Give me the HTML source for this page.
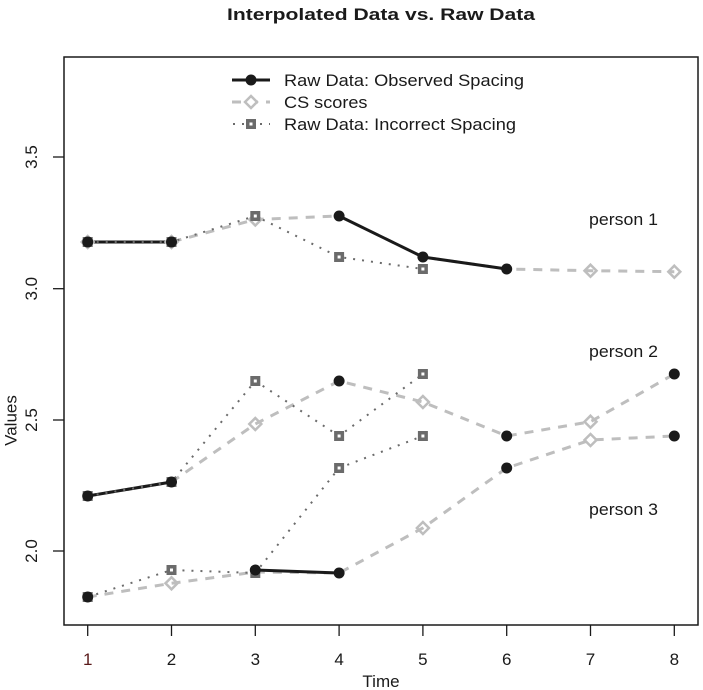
<!DOCTYPE html>
<html><head><meta charset="utf-8"><style>
html,body{margin:0;padding:0;background:#fff;}
svg{display:block;font-family:"Liberation Sans",Arial,sans-serif;}
</style></head><body>
<svg width="703" height="690" viewBox="0 0 703 690" xmlns="http://www.w3.org/2000/svg">
<rect width="703" height="690" fill="#fff"/>
<text x="381" y="20" text-anchor="middle" font-weight="bold" font-size="17" fill="#1a1a1a" textLength="308" lengthAdjust="spacingAndGlyphs">Interpolated Data vs. Raw Data</text>
<!-- box -->
<rect x="64" y="57" width="634" height="568" fill="none" stroke="#1a1a1a" stroke-width="1.5"/>
<!-- x ticks -->
<g stroke="#1a1a1a" stroke-width="1.3">
<line x1="87.7" y1="625" x2="87.7" y2="636"/>
<line x1="171.5" y1="625" x2="171.5" y2="636"/>
<line x1="255.3" y1="625" x2="255.3" y2="636"/>
<line x1="339.1" y1="625" x2="339.1" y2="636"/>
<line x1="422.9" y1="625" x2="422.9" y2="636"/>
<line x1="506.7" y1="625" x2="506.7" y2="636"/>
<line x1="590.5" y1="625" x2="590.5" y2="636"/>
<line x1="674.3" y1="625" x2="674.3" y2="636"/>
<line x1="53" y1="551" x2="64" y2="551"/>
<line x1="53" y1="420" x2="64" y2="420"/>
<line x1="53" y1="288.7" x2="64" y2="288.7"/>
<line x1="53" y1="157" x2="64" y2="157"/>
</g>
<g font-size="17" fill="#1a1a1a" text-anchor="middle">
<text x="87.7" y="665" fill="#5a1a1a">1</text>
<text x="171.5" y="665">2</text>
<text x="255.3" y="665">3</text>
<text x="339.1" y="665">4</text>
<text x="422.9" y="665">5</text>
<text x="506.7" y="665">6</text>
<text x="590.5" y="665">7</text>
<text x="674.3" y="665">8</text>
<text x="381" y="687">Time</text>
<text transform="translate(37,551) rotate(-90)">2.0</text>
<text transform="translate(37,420) rotate(-90)">2.5</text>
<text transform="translate(37,288.7) rotate(-90)">3.0</text>
<text transform="translate(37,157) rotate(-90)">3.5</text>
<text transform="translate(16.5,420.5) rotate(-90)">Values</text>
</g>

<!-- CS lines (gray dashed) -->
<g fill="none" stroke="#bebebe" stroke-width="3" stroke-dasharray="9 8">
<polyline points="87.7,242 171.5,242 255.3,219.5 339.1,216 422.9,257 506.7,269 590.5,270.7 674.3,271.7"/>
<polyline points="87.7,496 171.5,482 255.3,424 339.1,381 422.9,402 506.7,436 590.5,421.7 674.3,374"/>
<polyline points="87.7,597 171.5,583.3 255.3,572 339.1,573 422.9,528 506.7,468 590.5,440 674.3,436"/>
</g>
<!-- Raw lines (black solid) -->
<g fill="none" stroke="#1a1a1a" stroke-width="3">
<polyline points="87.7,242 171.5,242"/>
<polyline points="339.1,216 422.9,257 506.7,269"/>
<polyline points="87.7,496 171.5,482"/>
<polyline points="255.3,570 339.1,573"/>
</g>
<!-- Incorrect lines (dotted) -->
<g fill="none" stroke="#6b6b6b" stroke-width="2" stroke-dasharray="2 7">
<polyline points="87.7,242 171.5,242 255.3,216 339.1,257 422.9,269"/>
<polyline points="87.7,496 171.5,482 255.3,381 339.1,436 422.9,374"/>
<polyline points="87.7,597 171.5,570 255.3,573 339.1,468 422.9,436"/>
</g>

<!-- CS diamonds -->
<g fill="none" stroke="#bebebe" stroke-width="2.5">
<path d="M87.7,236 l6,6 l-6,6 l-6,-6z"/>
<path d="M171.5,236 l6,6 l-6,6 l-6,-6z"/>
<path d="M255.3,213.5 l6,6 l-6,6 l-6,-6z"/>
<path d="M590.5,264.7 l6,6 l-6,6 l-6,-6z"/>
<path d="M674.3,265.7 l6,6 l-6,6 l-6,-6z"/>
<path d="M255.3,418 l6,6 l-6,6 l-6,-6z"/>
<path d="M422.9,396 l6,6 l-6,6 l-6,-6z"/>
<path d="M590.5,415.7 l6,6 l-6,6 l-6,-6z"/>
<path d="M171.5,577.3 l6,6 l-6,6 l-6,-6z"/>
<path d="M422.9,522 l6,6 l-6,6 l-6,-6z"/>
<path d="M590.5,434 l6,6 l-6,6 l-6,-6z"/>
</g>

<!-- Incorrect squares -->
<g>
<g fill="#6b6b6b">
<rect x="82.7" y="237" width="10" height="10"/>
<rect x="166.5" y="237" width="10" height="10"/>
<rect x="250.3" y="211" width="10" height="10"/>
<rect x="334.1" y="252" width="10" height="10"/>
<rect x="417.9" y="264" width="10" height="10"/>
<rect x="82.7" y="491" width="10" height="10"/>
<rect x="166.5" y="477" width="10" height="10"/>
<rect x="250.3" y="376" width="10" height="10"/>
<rect x="334.1" y="431" width="10" height="10"/>
<rect x="417.9" y="369" width="10" height="10"/>
<rect x="82.7" y="592" width="10" height="10"/>
<rect x="166.5" y="565" width="10" height="10"/>
<rect x="250.3" y="568" width="10" height="10"/>
<rect x="334.1" y="463" width="10" height="10"/>
<rect x="417.9" y="431" width="10" height="10"/>
</g>
<g fill="#fff">
<rect x="86.2" y="240.5" width="3" height="3"/>
<rect x="170" y="240.5" width="3" height="3"/>
<rect x="253.8" y="214.5" width="3" height="3"/>
<rect x="337.6" y="255.5" width="3" height="3"/>
<rect x="421.4" y="267.5" width="3" height="3"/>
<rect x="86.2" y="494.5" width="3" height="3"/>
<rect x="170" y="480.5" width="3" height="3"/>
<rect x="253.8" y="379.5" width="3" height="3"/>
<rect x="337.6" y="434.5" width="3" height="3"/>
<rect x="421.4" y="372.5" width="3" height="3"/>
<rect x="170" y="568.5" width="3" height="3"/>
<rect x="337.6" y="466.5" width="3" height="3"/>
<rect x="421.4" y="434.5" width="3" height="3"/>
</g>
</g>

<!-- Raw circles -->
<g fill="#1a1a1a">
<circle cx="87.7" cy="242" r="5.5"/>
<circle cx="171.5" cy="242" r="5.5"/>
<circle cx="339.1" cy="216" r="5.5"/>
<circle cx="422.9" cy="257" r="5.5"/>
<circle cx="506.7" cy="269" r="5.5"/>
<circle cx="87.7" cy="496" r="5.5"/>
<circle cx="171.5" cy="482" r="5.5"/>
<circle cx="339.1" cy="381" r="5.5"/>
<circle cx="506.7" cy="436" r="5.5"/>
<circle cx="674.3" cy="374" r="5.5"/>
<circle cx="87.7" cy="597" r="5.5"/>
<circle cx="255.3" cy="570" r="5.5"/>
<circle cx="339.1" cy="573" r="5.5"/>
<circle cx="506.7" cy="468" r="5.5"/>
<circle cx="674.3" cy="436" r="5.5"/>
</g>

<!-- person labels -->
<g font-size="17" fill="#1a1a1a">
<text x="589" y="225" textLength="69" lengthAdjust="spacingAndGlyphs">person 1</text>
<text x="589" y="357" textLength="69" lengthAdjust="spacingAndGlyphs">person 2</text>
<text x="589" y="515" textLength="69" lengthAdjust="spacingAndGlyphs">person 3</text>
</g>

<!-- legend -->
<line x1="232" y1="80" x2="270" y2="80" stroke="#1a1a1a" stroke-width="3"/>
<circle cx="251" cy="80" r="5.5" fill="#1a1a1a"/>
<line x1="232" y1="102" x2="270" y2="102" stroke="#bebebe" stroke-width="3" stroke-dasharray="9 8"/>
<path d="M251,96 l6,6 l-6,6 l-6,-6z" fill="#fff" stroke="#bebebe" stroke-width="2.5"/>
<line x1="232" y1="124" x2="270" y2="124" stroke="#6b6b6b" stroke-width="2" stroke-dasharray="2 7" stroke-dashoffset="-1"/>
<rect x="246" y="119" width="10" height="10" fill="#6b6b6b"/>
<rect x="249.5" y="122.5" width="3" height="3" fill="#fff"/>
<g font-size="17" fill="#1a1a1a">
<text x="284" y="86" textLength="240" lengthAdjust="spacingAndGlyphs">Raw Data: Observed Spacing</text>
<text x="284" y="108" textLength="83.5" lengthAdjust="spacingAndGlyphs">CS scores</text>
<text x="284" y="130" textLength="232" lengthAdjust="spacingAndGlyphs">Raw Data: Incorrect Spacing</text>
</g>
</svg>
</body></html>
